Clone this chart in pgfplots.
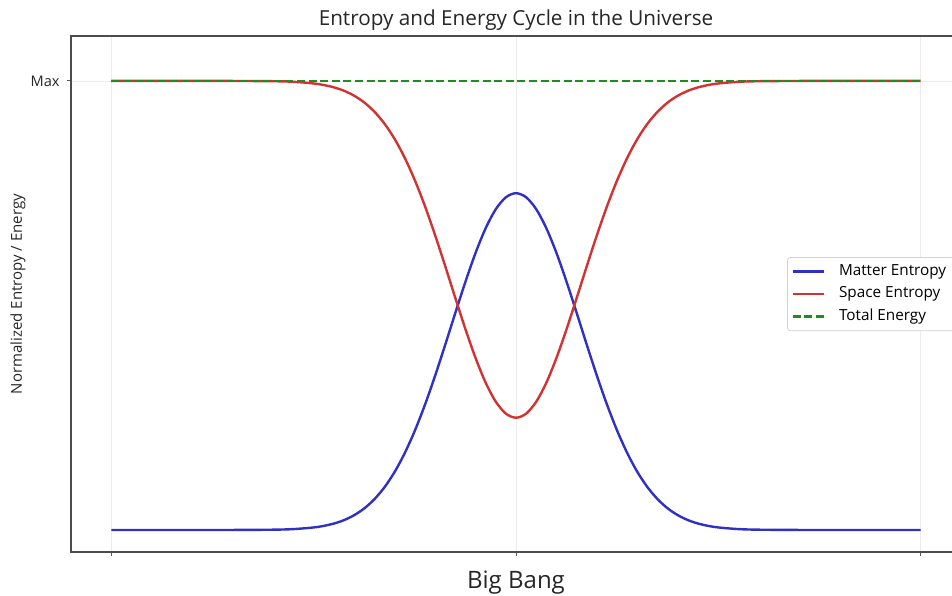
\documentclass[border=0pt]{standalone}
\usepackage{fontspec}
\setmainfont{Open Sans}
\usepackage{pgfplots}
\usepackage{pgfplotstable}
\pgfplotsset{compat=1.18}

\definecolor{matterblue}{RGB}{48,48,196}
\definecolor{spacered}{RGB}{210,50,50}
\definecolor{energygreen}{RGB}{30,140,30}

% Gaussian bump for matter entropy (peak 0.75, sigma 1.6); space entropy = 1 - matter
\pgfplotstableread{
x       m
-10     0.0000
-8      0.0000
-7      0.0001
-6      0.0007
-5.5    0.0020
-5      0.0057
-4.75   0.0092
-4.5    0.0144
-4.25   0.0220
-4      0.0330
-3.75   0.0481
-3.5    0.0686
-3.25   0.0953
-3      0.1293
-2.75   0.1713
-2.5    0.2213
-2.25   0.2790
-2      0.3434
-1.75   0.4124
-1.5    0.4833
-1.25   0.5527
-1      0.6169
-0.75   0.6720
-0.5    0.7143
-0.25   0.7409
0       0.7500
0.25    0.7409
0.5     0.7143
0.75    0.6720
1       0.6169
1.25    0.5527
1.5     0.4833
1.75    0.4124
2       0.3434
2.25    0.2790
2.5     0.2213
2.75    0.1713
3       0.1293
3.25    0.0953
3.5     0.0686
3.75    0.0481
4       0.0330
4.25    0.0220
4.5     0.0144
4.75    0.0092
5       0.0057
5.5     0.0020
6       0.0007
7       0.0001
8       0.0000
10      0.0000
}\entropytable

\begin{document}
\begin{tikzpicture}
\useasboundingbox (-35.5pt,-21.5pt) rectangle (440.5pt,276pt);
\begin{axis}[
  at={(0pt,0pt)}, anchor=south west,
  scale only axis, width=445pt, height=258pt,
  xmin=-11, xmax=11, ymin=-0.049, ymax=1.1,
  xtick={-10,0,10}, xticklabels={,,},
  ytick={1}, yticklabels={Max},
  tick align=outside, tick pos=left, major tick length=2.2pt,
  tick style={gray!70!black, line width=0.5pt},
  grid=major, grid style={gray!15, line width=0.4pt},
  axis line style={gray!60!black, line width=0.6pt},
  yticklabel style={font=\fontsize{7.3}{8}\selectfont, text=black!85},
  title={Entropy and Energy Cycle in the Universe},
  every axis title/.style={font=\fontsize{10.35}{12}\selectfont, text=black!85, at={(0.5,1)}, anchor=base, yshift=5pt},
  xlabel={Big Bang},
  xlabel style={font=\fontsize{12}{14}\selectfont, text=black!85, at={(0.5,0)}, anchor=base, yshift=-18pt},
  ylabel={Normalized Entropy / Energy},
  ylabel style={font=\fontsize{7.5}{8}\selectfont, text=black!85, at={(axis description cs:-0.0596,0.5)}, anchor=center},
  legend cell align=left,
  legend style={at={(0.8045,0.5717)}, anchor=north west, draw=gray!35, rounded corners=1.5pt,
    font=\fontsize{7.65}{9}\selectfont, inner xsep=2pt, inner ysep=1.5pt, row sep=0.2pt,
    /tikz/every odd column/.append style={column sep=5pt}},
  legend image code/.code={\draw[#1] (0pt,0pt) -- (15.5pt,0pt);},
]
\addplot[matterblue, line width=1.2pt, smooth] table[x=x, y=m] {\entropytable};
\addlegendentry{Matter Entropy}
\addplot[spacered, line width=1.2pt, smooth] table[x=x, y expr=1-\thisrow{m}] {\entropytable};
\addlegendentry{Space Entropy}
\addplot[energygreen, line width=1.3pt, dash pattern=on 4pt off 1.8pt] coordinates {(-10,1) (10,1)};
\addlegendentry{Total Energy}
\end{axis}
\end{tikzpicture}
\end{document}
